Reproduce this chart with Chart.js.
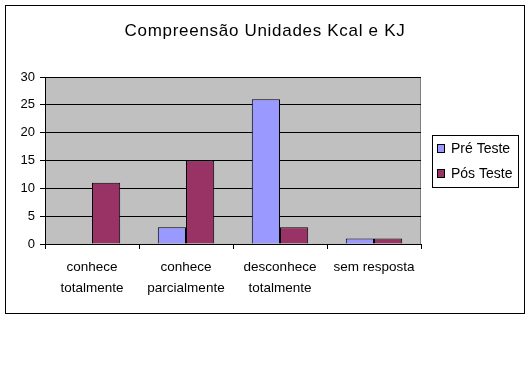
<!DOCTYPE html>
<html><head><meta charset="utf-8">
<script src="https://cdn.jsdelivr.net/npm/chart.js@4"></script>
<style>html,body{margin:0;padding:0;background:#fff}#w{width:530px;height:384px;position:relative}</style>
</head><body><div id="w"><canvas id="c" width="530" height="384"></canvas></div>
<script>
const chartTitle = 'Compreensão Unidades Kcal e KJ';
const categories = [['conhece','totalmente'],['conhece','parcialmente'],['desconhece','totalmente'],['sem resposta']];
const seriesNames = ['Pré Teste','Pós Teste'];
const preTeste = [0, 3, 26, 1];
const posTeste = [11, 15, 3, 1];
const yTicks = [0, 5, 10, 15, 20, 25, 30];
const colors = ['#9999FF', '#993366'];
const FONT = '"Liberation Sans", Arial, sans-serif';

const deco = {
  id: 'deco',
  beforeDraw(chart) {
    const {ctx, chartArea: a} = chart;
    ctx.save();
    ctx.fillStyle = '#fff';
    ctx.fillRect(0, 0, chart.width, chart.height);
    ctx.strokeStyle = '#000';
    ctx.lineWidth = 1;
    ctx.strokeRect(5.5, 5.5, 519, 308);
    ctx.fillStyle = '#C0C0C0';
    ctx.fillRect(a.left, a.top, a.right - a.left, a.bottom - a.top);
    ctx.strokeStyle = '#808080';
    ctx.strokeRect(a.left + 0.5, a.top + 0.5, a.right - a.left - 1, a.bottom - a.top);
    ctx.restore();
  },
  afterDraw(chart) {
    const {ctx} = chart;
    ctx.save();
    ctx.fillStyle = '#000';
    ctx.font = '17px ' + FONT;
    ctx.textAlign = 'center';
    ctx.textBaseline = 'middle';
    ctx.letterSpacing = '0.7px';
    ctx.fillText(chartTitle, 265, 31);
    ctx.letterSpacing = '0px';
    // legend
    ctx.strokeStyle = '#000';
    ctx.lineWidth = 1;
    ctx.strokeRect(432.5, 135.5, 86, 52);
    ctx.font = '14px ' + FONT;
    ctx.textAlign = 'left';
    chart.data.datasets.forEach((ds, i) => {
      const y = 149 + i * 25;
      ctx.fillStyle = ds.backgroundColor;
      ctx.fillRect(437, y - 4, 8, 8);
      ctx.strokeRect(437.5, y - 4.5, 7, 8);
      ctx.fillStyle = '#000';
      ctx.fillText(ds.label, 451, y);
    });
    ctx.restore();
  }
};

new Chart(document.getElementById('c'), {
  type: 'bar',
  data: {
    labels: categories,
    datasets: [
      {label: seriesNames[0], data: preTeste, backgroundColor: colors[0], borderColor: '#000', borderWidth: 1},
      {label: seriesNames[1], data: posTeste, backgroundColor: colors[1], borderColor: '#000', borderWidth: 1}
    ]
  },
  options: {
    responsive: false,
    animation: false,
    devicePixelRatio: 1,
    layout: {padding: {left: 0, top: 77, right: 109, bottom: 80}},
    plugins: {legend: {display: false}, title: {display: false}, tooltip: {enabled: false}},
    datasets: {bar: {categoryPercentage: 0.6, barPercentage: 1}},
    scales: {
      x: {
        afterFit(s) { s.height = 60; },
        grid: {offset: true, drawOnChartArea: false, drawTicks: true, tickLength: 5, color: '#000'},
        border: {color: '#000'},
        ticks: {color: '#000', font: {family: FONT, size: 13.5, lineHeight: 1.55}, padding: 8, maxRotation: 0, autoSkip: false}
      },
      y: {
        min: 0, max: 30,
        afterFit(s) { s.width = 45; },
        afterBuildTicks(s) { s.ticks = yTicks.map(v => ({value: v})); },
        grid: {color: '#000', drawTicks: true, tickLength: 5},
        border: {color: '#000'},
        ticks: {color: '#000', font: {family: FONT, size: 13}, padding: 5}
      }
    }
  },
  plugins: [deco]
});
</script></body></html>
